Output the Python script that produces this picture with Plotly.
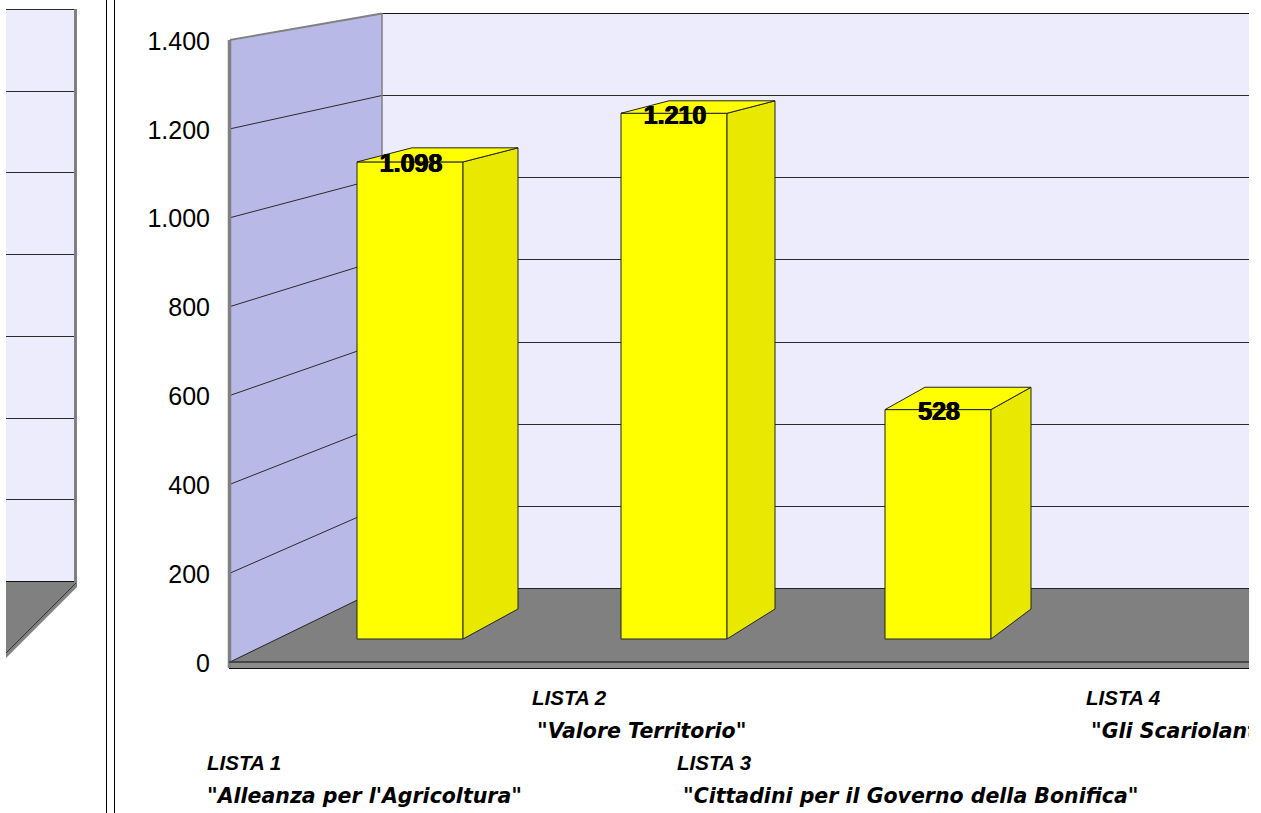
import plotly.graph_objects as go

# ---- data ----
categories = ["LISTA 1", "LISTA 2", "LISTA 3", "LISTA 4"]
slogans = ['"Alleanza per l\'Agricoltura"', '"Valore Territorio"',
           '"Cittadini per il Governo della Bonifica"', '"Gli Scariolanti"']
votes = [1098, 1210, 528, None]
tick_values = [0, 200, 400, 600, 800, 1000, 1200, 1400]
tick_labels = ["0", "200", "400", "600", "800", "1.000", "1.200", "1.400"]
side_panel_levels = [0, 1, 2, 3, 4, 5, 6, 7]

# ---- layout geometry (page pixels) ----
W, H = 1261, 813
XL, XR = 6, 1249
ZERO_FRONT, SCALE_FRONT = 662, 622 / 1400   # left wall front edge
ZERO_BACK, SCALE_BACK = 588, 575 / 1400     # back wall
ZERO_BAR, SCALE_BAR = 639, 0.4345           # front faces
ZERO_BAR_B, SCALE_BAR_B = 609, 0.42         # back edge of the bars
BAR_W = 106
bar_centers = [410 + 264 * i for i in range(4)]
bar_depth = [55, 48, 40, 32]
LABEL_DROP = 4 / SCALE_BAR

WALL_X0, WALL_X1 = 230, 382

label_pos = [(207, 765, 207, 798), (532, 700, 537, 733), (677, 765, 683, 798), (1086, 700, 1091, 733)]


def py(p):
    """page pixel row -> value on the main axis"""
    return (ZERO_FRONT - p) / SCALE_FRONT


def bar_back(v):
    """value at the rear of a bar, expressed on the bars' axis"""
    return (ZERO_BAR - (ZERO_BAR_B - SCALE_BAR_B * v)) / SCALE_BAR


def back_px(v):
    return round(ZERO_BACK - SCALE_BACK * v) + 0.5


def front_px(v):
    return ZERO_FRONT - SCALE_FRONT * v


GREY = "#808080"
BACKWALL = "#ececfd"
SIDEWALL = "#b9b9e8"
GRID = "#2a2a2a"

fig = go.Figure()


def poly(xs, ys, fill, line=None, lw=1, yaxis="y"):
    fig.add_trace(go.Scatter(x=xs + xs[:1], y=ys + ys[:1], mode="lines", fill="toself", fillcolor=fill,
                             line=dict(color=line or fill, width=lw if line else 0),
                             hoverinfo="skip", showlegend=False, yaxis=yaxis))


def seg(xs, pys, color, lw=1):
    fig.add_trace(go.Scatter(x=xs, y=[py(p) for p in pys], mode="lines", line=dict(color=color, width=lw),
                             hoverinfo="skip", showlegend=False))


# left, cropped panel
poly([XL, 77, 77, XL], [py(9), py(9), py(581), py(581)], BACKWALL)
poly([XL, 75, 77, 77, XL], [py(581), py(581), py(583), py(587), py(658)], GREY)
for lv in side_panel_levels:
    p = round(9 + lv * 81.7) + 0.5
    seg([XL, 76], [p, p], GRID, 1)
seg([XL, 76], [581.5, 581.5], "#111111", 1)
seg([75.5, 75.5], [9, 584], GREY, 3)
seg([76, XL], [583, 653], "#333333", 1)
# panel dividers
seg([106.5, 106.5], [0, H], "#000000", 1)
seg([114.5, 114.5], [0, H], "#000000", 1)

# walls and floor
poly([WALL_X1, XR, XR, WALL_X1], [py(13), py(13), py(ZERO_BACK), py(ZERO_BACK)], BACKWALL)
poly([WALL_X0, WALL_X1, WALL_X1, WALL_X0], [py(41), py(13), py(ZERO_BACK), py(ZERO_FRONT)], SIDEWALL)
poly([WALL_X0, WALL_X1, XR, XR], [py(ZERO_FRONT), py(ZERO_BACK), py(ZERO_BACK), py(ZERO_FRONT)], GREY)
poly([229, XR, XR, 229], [py(ZERO_FRONT), py(ZERO_FRONT), py(668), py(668)], "#8c8c8c")
for v in tick_values[1:-1]:
    seg([WALL_X0, WALL_X1, XR], [front_px(v), back_px(v), back_px(v)], GRID, 1)
seg([WALL_X0, WALL_X1], [front_px(1400), back_px(1400)], GREY, 2)
seg([WALL_X1, XR], [13.5, 13.5], "#111111", 1)
seg([WALL_X1, WALL_X1], [13, ZERO_BACK], GREY, 1.5)
seg([WALL_X1, XR], [ZERO_BACK + 0.5, ZERO_BACK + 0.5], "#222222", 1)
seg([WALL_X0, WALL_X1], [ZERO_FRONT, ZERO_BACK], "#222222", 1)
seg([229.5, 229.5], [40, 668], GREY, 3.5)
seg([229, XR], [ZERO_FRONT, ZERO_FRONT], "#333333", 1.5)
seg([229, XR], [668.5, 668.5], "#111111", 1)

# bars on their own axis
bx = [c for c, v in zip(bar_centers, votes) if v is not None]
bv = [v for v in votes if v is not None]
bd = [d for d, v in zip(bar_depth, votes) if v is not None]
fig.add_trace(go.Bar(x=bx, y=bv, width=BAR_W, base=0, yaxis="y2",
                     marker=dict(color="#ffff00", line=dict(color="#222222", width=1)),
                     hoverinfo="skip", showlegend=False))
for c, v, d in zip(bx, bv, bd):
    l, r = c - BAR_W / 2, c + BAR_W / 2
    poly([r, r + d, r + d, r], [0, bar_back(0), bar_back(v), v], "#e8e800", "#222222", 1, "y2")
    poly([l, l + d, r + d, r], [v, bar_back(v), bar_back(v), v], "#ffff00", "#222222", 1, "y2")

fig.add_trace(go.Scatter(x=[c + 1 for c in bx], y=[v - LABEL_DROP for v in bv], yaxis="y2", mode="text",
                         text=[f"{v:,}".replace(",", ".") for v in bv], textposition="middle center",
                         textfont=dict(family="Liberation Sans", size=25, color="#000000", weight="bold",
                                       shadow="0.6px 0 0 #000, -0.6px 0 0 #000"),
                         hoverinfo="skip", showlegend=False))

# category labels
for cat, slogan, (x1, y1, x2, y2) in zip(categories, slogans, label_pos):
    fig.add_trace(go.Scatter(x=[x1], y=[py(y1)], mode="text", text=[cat], textposition="middle right",
                             textfont=dict(family="Liberation Sans", size=20.5, color="#000000",
                                           weight="bold", style="italic"),
                             hoverinfo="skip", showlegend=False))
    fig.add_trace(go.Scatter(x=[x2], y=[py(y2)], mode="text", text=[slogan], textposition="middle right",
                             textfont=dict(family="DejaVu Sans", size=20.5, color="#000000",
                                           weight="bold", style="italic"),
                             hoverinfo="skip", showlegend=False))

fig.update_layout(
    width=W, height=H, margin=dict(l=0, r=0, t=0, b=0), paper_bgcolor="white", plot_bgcolor="white",
    showlegend=False, hovermode=False, barmode="overlay",
    xaxis=dict(domain=[XL / W, XR / W], range=[XL, XR], visible=False, fixedrange=True),
    yaxis=dict(domain=[0, 1], range=[py(H), py(0)], tickvals=tick_values, ticktext=tick_labels,
               showgrid=False, zeroline=False, showline=False, ticks="", anchor="free", position=210 / W,
               ticklabelshift=1,
               tickfont=dict(family="Liberation Sans", size=25, color="#000000"), fixedrange=True),
    yaxis2=dict(domain=[0, 1], overlaying="y", anchor="x",
                range=[(ZERO_BAR - H) / SCALE_BAR, ZERO_BAR / SCALE_BAR], visible=False, fixedrange=True),
)

fig.write_html("out.html", config={"displayModeBar": False},
               post_script="document.body.style.margin='0';document.body.style.overflow='hidden';")
